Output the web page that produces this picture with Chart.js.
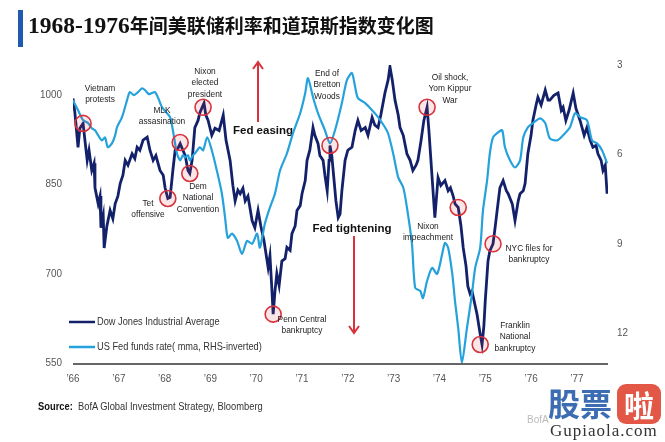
<!DOCTYPE html>
<html>
<head>
<meta charset="utf-8">
<script src="https://cdn.jsdelivr.net/npm/chart.js@4"></script>
<style>
  html, body { margin: 0; padding: 0; background: #fff; }
  #wrap { position: relative; width: 665px; height: 442px; overflow: hidden; }
  #chart { position: absolute; left: 0; top: 0; }
  .bar { position: absolute; left: 18px; top: 10px; width: 5px; height: 37px; background: #1e5bb0; }
  .title { position: absolute; left: 28px; top: 11px; font: bold 23.5px "Liberation Serif", "Noto Sans CJK SC", serif; color: #111; white-space: nowrap; }
  .title .cn { font-family: "Noto Sans CJK SC", sans-serif; font-size: 19px; }
  .source { position: absolute; left: 38px; top: 400px; font: 10.5px "Liberation Sans", Arial, sans-serif; color: #333; white-space: nowrap; transform: scaleX(0.89); transform-origin: left center; }
  .source b { color: #111; }
  .bofa { position: absolute; left: 527px; top: 414px; font: 10px "Liberation Sans", Arial, sans-serif; color: #bbb; }
  .wm1 { position: absolute; left: 548px; top: 379px; font: bold 32px "Noto Sans CJK SC", sans-serif; color: #3c6db3; }
  .wm2 { position: absolute; left: 617px; top: 384px; width: 44px; height: 40px; border-radius: 9px; background: #e25746; color: #fff; font: bold 30px "Noto Sans CJK SC", sans-serif; text-align: center; line-height: 40px; }
  .wm3 { position: absolute; left: 550px; top: 421px; font: 17px "Liberation Serif", serif; color: #333; letter-spacing: 1px; }
</style>
</head>
<body>
<div id="wrap">
  <canvas id="chart" width="665" height="442"></canvas>
  <div class="bar"></div>
  <div class="title">1968-1976<span class="cn">年间美联储利率和道琼斯指数变化图</span></div>
  <div class="source"><b>Source:</b>&nbsp; BofA Global Investment Strategy, Bloomberg</div>
  <div class="bofa">BofA</div>
  <div class="wm1">股票</div>
  <div class="wm2">啦</div>
  <div class="wm3">Gupiaola.com</div>
</div>
<script>
// Dow Jones Industrial Average (left axis)
const djiaDates = [
  1966.00, 1966.04, 1966.11, 1966.15, 1966.22, 1966.26, 1966.31, 1966.35, 1966.41, 1966.46,
  1966.48, 1966.55, 1966.59, 1966.61, 1966.66, 1966.68, 1966.74, 1966.81, 1966.87, 1966.92,
  1966.98, 1967.03, 1967.09, 1967.14, 1967.20, 1967.29, 1967.35, 1967.40, 1967.46, 1967.53,
  1967.62, 1967.68, 1967.75, 1967.81, 1967.90, 1967.97, 1968.01, 1968.07, 1968.12, 1968.18,
  1968.23, 1968.29, 1968.34, 1968.40, 1968.45, 1968.51, 1968.55, 1968.60, 1968.66, 1968.73,
  1968.77, 1968.82, 1968.86, 1968.90, 1968.95, 1969.03, 1969.10, 1969.19, 1969.28, 1969.34,
  1969.43, 1969.49, 1969.54, 1969.60, 1969.65, 1969.71, 1969.76, 1969.82, 1969.91, 1969.97,
  1970.04, 1970.10, 1970.17, 1970.26, 1970.30, 1970.34, 1970.37, 1970.41, 1970.45, 1970.50,
  1970.56, 1970.63, 1970.67, 1970.74, 1970.78, 1970.85, 1970.89, 1970.96, 1971.00, 1971.07,
  1971.11, 1971.17, 1971.24, 1971.28, 1971.35, 1971.39, 1971.46, 1971.50, 1971.55, 1971.59,
  1971.61, 1971.65, 1971.70, 1971.74, 1971.79, 1971.83, 1971.87, 1971.94, 1972.00, 1972.09,
  1972.16, 1972.22, 1972.29, 1972.38, 1972.44, 1972.53, 1972.59, 1972.66, 1972.72, 1972.81,
  1972.88, 1972.92, 1972.97, 1973.03, 1973.10, 1973.14, 1973.21, 1973.29, 1973.36, 1973.42,
  1973.49, 1973.53, 1973.60, 1973.66, 1973.73, 1973.77, 1973.84, 1973.90, 1973.97, 1974.03,
  1974.12, 1974.19, 1974.24, 1974.30, 1974.34, 1974.41, 1974.47, 1974.52, 1974.58, 1974.62,
  1974.67, 1974.71, 1974.78, 1974.82, 1974.89, 1974.93, 1974.97, 1975.00, 1975.06, 1975.10,
  1975.17, 1975.22, 1975.26, 1975.32, 1975.39, 1975.46, 1975.50, 1975.59, 1975.65, 1975.72,
  1975.76, 1975.83, 1975.87, 1975.93, 1976.00, 1976.04, 1976.11, 1976.15, 1976.22, 1976.31,
  1976.37, 1976.41, 1976.50, 1976.59, 1976.66, 1976.70, 1976.76, 1976.83, 1976.92, 1976.98,
  1977.07, 1977.16, 1977.22, 1977.29, 1977.35, 1977.42, 1977.46, 1977.53, 1977.57, 1977.62,
  1977.66
];
const djiaValues = [
  994, 971, 912, 944, 952, 924, 890, 907, 873, 885,
  844, 817, 830, 777, 797, 743, 780, 806, 792, 817,
  830, 851, 865, 890, 882, 901, 893, 912, 907, 924,
  929, 907, 890, 898, 873, 865, 844, 826, 828, 873,
  907, 910, 918, 907, 898, 873, 868, 890, 945, 957,
  970, 979, 986, 966, 957, 932, 944, 940, 966, 924,
  890, 848, 822, 840, 834, 843, 822, 830, 789, 777,
  806, 780, 755, 710, 730, 676, 632, 671, 700, 680,
  721, 725, 744, 739, 767, 780, 806, 814, 834, 856,
  890, 907, 945, 932, 918, 898, 890, 865, 839, 890,
  915, 898, 856, 822, 794, 800, 839, 890, 907, 912,
  940, 957, 940, 945, 932, 962, 949, 945, 966, 1003,
  1025, 1047, 1025, 991, 966, 945, 932, 901, 890, 873,
  882, 890, 924, 957, 979, 940, 861, 794, 861, 848,
  856, 839, 844, 830, 817, 811, 780, 743, 713, 679,
  666, 671, 646, 632, 598, 581, 612, 654, 721, 738,
  750, 780, 806, 844, 856, 839, 834, 817, 789, 822,
  834, 839, 851, 901, 932, 957, 983, 996, 983, 1008,
  991, 991, 999, 1003, 974, 979, 957, 974, 1003, 977,
  957, 932, 945, 924, 912, 915, 901, 890, 873, 882,
  834
];

// US Fed funds rate, moving average (right axis, inverted)
const fedDates = [
  1966.00, 1966.11, 1966.22, 1966.33, 1966.41, 1966.48, 1966.55, 1966.63, 1966.70, 1966.76,
  1966.85, 1966.92, 1966.96, 1967.07, 1967.18, 1967.24, 1967.33, 1967.42, 1967.51, 1967.57,
  1967.66, 1967.72, 1967.79, 1967.86, 1967.94, 1968.03, 1968.12, 1968.18, 1968.27, 1968.34,
  1968.40, 1968.45, 1968.51, 1968.55, 1968.62, 1968.66, 1968.77, 1968.84, 1968.93, 1969.03,
  1969.14, 1969.25, 1969.32, 1969.38, 1969.47, 1969.58, 1969.69, 1969.80, 1969.91, 1970.02,
  1970.08, 1970.19, 1970.30, 1970.41, 1970.52, 1970.67, 1970.80, 1970.96, 1971.07, 1971.13,
  1971.24, 1971.35, 1971.50, 1971.61, 1971.72, 1971.87, 1971.98, 1972.09, 1972.16, 1972.22,
  1972.38, 1972.53, 1972.66, 1972.81, 1972.88, 1972.99, 1973.10, 1973.21, 1973.29, 1973.40,
  1973.47, 1973.58, 1973.64, 1973.73, 1973.84, 1973.95, 1974.06, 1974.12, 1974.19, 1974.28,
  1974.34, 1974.41, 1974.49, 1974.60, 1974.71, 1974.78, 1974.89, 1974.95, 1975.04, 1975.10,
  1975.17, 1975.28, 1975.37, 1975.43, 1975.54, 1975.65, 1975.76, 1975.83, 1975.93, 1976.04,
  1976.20, 1976.31, 1976.41, 1976.57, 1976.70, 1976.85, 1976.96, 1977.07, 1977.22, 1977.33,
  1977.44, 1977.55, 1977.66
];
const fedValues = [
  4.18, 4.52, 4.85, 4.95, 5.12, 5.19, 5.36, 5.53, 5.43, 5.76,
  5.63, 5.36, 5.09, 4.75, 4.18, 3.91, 4.01, 3.91, 3.78, 3.84,
  3.98, 3.94, 3.91, 4.11, 4.41, 4.58, 4.75, 5.19, 5.97, 6.20,
  6.03, 6.10, 6.03, 6.20, 6.03, 5.97, 5.76, 5.86, 5.43, 5.86,
  6.54, 7.31, 8.12, 8.80, 8.66, 8.90, 9.34, 8.90, 9.00, 8.66,
  9.13, 8.32, 7.78, 7.31, 6.54, 5.97, 5.30, 4.62, 3.94, 3.44,
  4.08, 4.62, 5.19, 5.63, 5.19, 4.28, 3.51, 3.27, 3.74, 4.11,
  4.28, 4.52, 4.75, 5.09, 5.30, 5.97, 6.77, 7.11, 7.78, 9.00,
  10.48, 10.58, 10.82, 10.25, 9.81, 10.01, 9.34, 8.97, 9.13, 10.01,
  10.92, 11.83, 13.00, 11.83, 10.68, 9.81, 9.13, 7.89, 6.88, 5.97,
  5.43, 5.26, 5.19, 5.76, 6.20, 6.44, 6.20, 5.43, 5.09, 4.95,
  4.79, 4.95, 5.46, 5.53, 5.36, 5.09, 4.62, 4.75, 4.85, 5.53,
  5.63, 5.86, 6.30
];

const xTickYears = [1966, 1967, 1968, 1969, 1970, 1971, 1972, 1973, 1974, 1975, 1976, 1977];
const xTickLabels = ["’66", "’67", "’68", "’69", "’70", "’71", "’72", "’73", "’74", "’75", "’76", "’77"];
const leftTicks = [1000, 850, 700, 550];
const rightTicks = [3, 6, 9, 12];

// events circled on the Dow line
const eventDates = [1966.22, 1968.07, 1968.34, 1968.55, 1968.84, 1970.37, 1971.61, 1973.73, 1974.41, 1974.89, 1975.17];
const eventValues = [952, 826, 920, 868, 979, 632, 915, 979, 811, 581, 750];

// label text with pixel anchor (centre x, first line y)
const eventLabels = [
  { lines: ["Vietnam", "protests"], x: 100, y: 88 },
  { lines: ["MLK", "assasination"], x: 162, y: 110 },
  { lines: ["Tet", "offensive"], x: 148, y: 203 },
  { lines: ["Dem", "National", "Convention"], x: 198, y: 186 },
  { lines: ["Nixon", "elected", "president"], x: 205, y: 71 },
  { lines: ["Penn Central", "bankruptcy"], x: 302, y: 319 },
  { lines: ["End of", "Bretton", "Woods"], x: 327, y: 73 },
  { lines: ["Oil shock,", "Yom Kippur", "War"], x: 450, y: 77 },
  { lines: ["Nixon", "impeachment"], x: 428, y: 226 },
  { lines: ["NYC files for", "bankruptcy"], x: 529, y: 248 },
  { lines: ["Franklin", "National", "bankruptcy"], x: 515, y: 325 }
];

const navy = "#13216a";
const sky = "#25a1dc";
const red = "#d8323c";
const sans = '"Liberation Sans", Arial, sans-serif';

const djiaData = djiaDates.map((x, i) => ({ x, y: djiaValues[i] }));
const fedData = fedDates.map((x, i) => ({ x, y: fedValues[i] }));

// condensed text: squeeze horizontally around the anchor
const narrowText = (ctx, text, x, y, sx) => {
  ctx.save();
  ctx.translate(x, y);
  ctx.scale(sx, 1);
  ctx.fillText(text, 0, 0);
  ctx.restore();
};

const drawArrow = (ctx, x, y1, y2) => {
  const dir = y2 < y1 ? -1 : 1;
  ctx.strokeStyle = red;
  ctx.lineWidth = 2;
  ctx.beginPath();
  ctx.moveTo(x, y1);
  ctx.lineTo(x, y2);
  ctx.stroke();
  ctx.beginPath();
  ctx.moveTo(x - 5, y2 - dir * 7);
  ctx.lineTo(x, y2);
  ctx.lineTo(x + 5, y2 - dir * 7);
  ctx.stroke();
};

const decorations = {
  id: "decorations",
  beforeDatasetsDraw(chart) {
    const { ctx, chartArea, scales } = chart;
    ctx.save();
    // axis line
    ctx.strokeStyle = "#333";
    ctx.lineWidth = 1.5;
    ctx.beginPath();
    ctx.moveTo(chartArea.left, chartArea.bottom + 1);
    ctx.lineTo(chartArea.right, chartArea.bottom + 1);
    ctx.stroke();

    ctx.fillStyle = "#555";
    ctx.font = "11px " + sans;
    ctx.textBaseline = "middle";
    ctx.textAlign = "center";
    xTickYears.forEach((yr, i) => {
      narrowText(ctx, xTickLabels[i], scales.x.getPixelForValue(yr), chartArea.bottom + 16, 0.9);
    });
    ctx.textAlign = "right";
    leftTicks.forEach((v) => {
      narrowText(ctx, String(v), 62, scales.y.getPixelForValue(v), 0.9);
    });
    ctx.textAlign = "left";
    rightTicks.forEach((v) => {
      narrowText(ctx, String(v), 617, scales.y2.getPixelForValue(v), 0.9);
    });

    // arrows and fed captions
    drawArrow(ctx, 258, 122, 62);
    drawArrow(ctx, 354, 236, 333);
    ctx.fillStyle = "#111";
    ctx.font = "bold 11.5px Arial, sans-serif";
    ctx.textAlign = "center";
    ctx.fillText("Fed easing", 263, 131);
    ctx.fillText("Fed tightening", 352, 229);

    // legend
    ctx.lineWidth = 2.5;
    ctx.strokeStyle = navy;
    ctx.beginPath(); ctx.moveTo(69, 322); ctx.lineTo(95, 322); ctx.stroke();
    ctx.strokeStyle = sky;
    ctx.beginPath(); ctx.moveTo(69, 347); ctx.lineTo(95, 347); ctx.stroke();
    ctx.fillStyle = "#333";
    ctx.font = "10.5px " + sans;
    ctx.textAlign = "left";
    narrowText(ctx, "Dow Jones Industrial Average", 97, 322, 0.88);
    narrowText(ctx, "US Fed funds rate( mma, RHS-inverted)", 97, 347, 0.88);
    ctx.restore();
  },
  afterDatasetsDraw(chart) {
    const { ctx, scales } = chart;
    ctx.save();
    ctx.strokeStyle = red;
    ctx.lineWidth = 1.6;
    eventDates.forEach((d, i) => {
      const px = scales.x.getPixelForValue(d);
      const py = scales.y.getPixelForValue(eventValues[i]);
      ctx.fillStyle = "rgba(216, 50, 60, 0.12)";
      ctx.beginPath();
      ctx.arc(px, py, 8, 0, Math.PI * 2);
      ctx.fill();
      ctx.stroke();
    });
    ctx.fillStyle = "#222";
    ctx.font = "9.5px " + sans;
    ctx.textAlign = "center";
    ctx.textBaseline = "middle";
    eventLabels.forEach((lab) => {
      lab.lines.forEach((t, j) => narrowText(ctx, t, lab.x, lab.y + j * 11.5, 0.88));
    });
    ctx.restore();
  }
};

new Chart(document.querySelector("#chart"), {
  type: "line",
  data: {
    datasets: [
      {
        label: "US Fed funds rate( mma, RHS-inverted)",
        data: fedData,
        yAxisID: "y2",
        borderColor: sky,
        borderWidth: 2.2,
        pointRadius: 0,
        tension: 0.25,
        fill: false
      },
      {
        label: "Dow Jones Industrial Average",
        data: djiaData,
        yAxisID: "y",
        borderColor: navy,
        borderWidth: 2.8,
        pointRadius: 0,
        tension: 0,
        fill: false
      }
    ]
  },
  options: {
    responsive: false,
    animation: false,
    layout: { padding: { left: 73, right: 57, top: 65, bottom: 79 } },
    plugins: { legend: { display: false }, tooltip: { enabled: false } },
    scales: {
      x: { type: "linear", min: 1966, max: 1977.68, display: false },
      y: { type: "linear", min: 550, max: 1050, display: false },
      y2: { type: "linear", min: 3, max: 13, reverse: true, display: false }
    }
  },
  plugins: [decorations]
});
</script>
</body>
</html>
